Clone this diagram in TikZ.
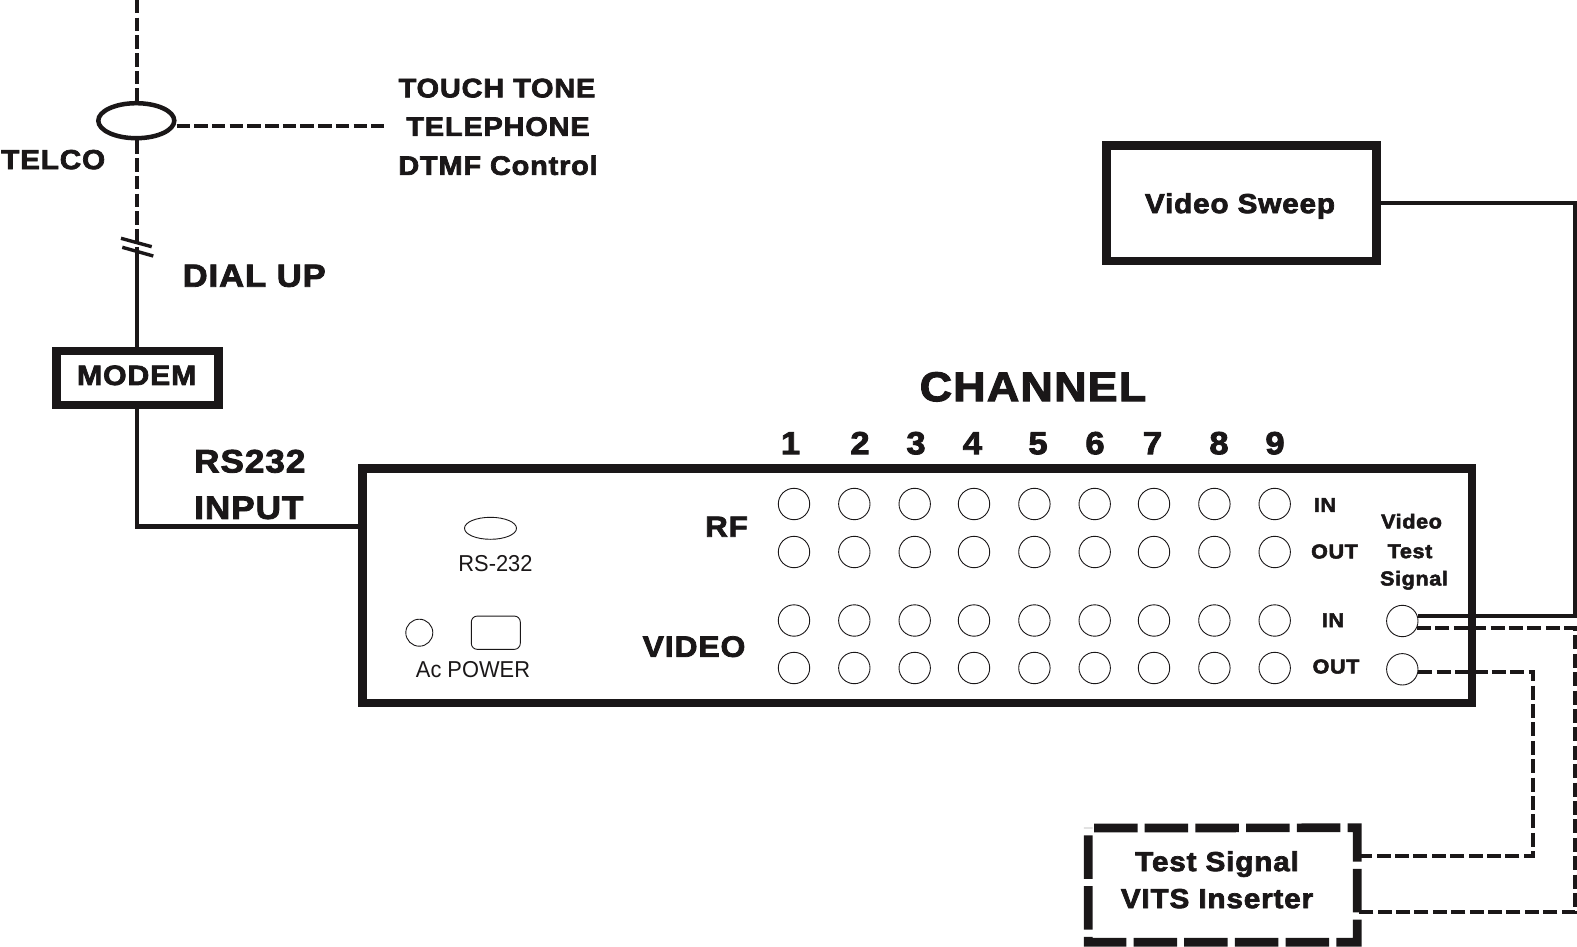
\documentclass[tikz,border=0pt]{standalone}
\usepackage{fontspec}
\usepackage{tikz}
\usetikzlibrary{calc,shapes.geometric}
\newfontfamily\hv[BoldFeatures={FakeBold=2.6,FakeStretch=1.08,LetterSpace=3}]{Liberation Sans}
\newfontfamily\thn[FakeStretch=0.95]{Liberation Sans}
\definecolor{ink}{HTML}{1A1718}
\tikzset{
  lab/.style={font={\hv\bfseries\fontsize{#1}{#1}\selectfont},text=ink,inner sep=0pt,text depth=0pt,text height={(0.72*#1)*1pt},align=center,yshift=0.8pt},
  thinlab/.style={font={\thn\fontsize{#1}{#1}\selectfont},text=ink,inner sep=0pt,text depth=0pt,text height={(0.72*#1)*1pt},yshift=0.8pt},
  heavybox/.style={draw=ink,line width=8.7pt,inner sep=0pt,minimum width=#1},
  jack/.style={circle,draw=ink,line width=0.9pt,minimum size=31.4pt,inner sep=0pt},
  wire/.style={draw=ink,line width=4.3pt,line join=miter},
  dashwire/.style={draw=ink,line width=4pt,dash pattern=on 13.5pt off 4.2pt},
  rightdash/.style={draw=ink,line width=4pt,dash pattern=on 14pt off 4.4pt},
  thinpart/.style={draw=ink,line width=0.9pt}
}
\begin{document}
\begin{tikzpicture}[x=1pt,y=-1pt]
\useasboundingbox (0,0) rectangle (1577,947);
% telco
\coordinate (top) at (137,0);
\coordinate (sideend) at (384,125.7);
\coordinate (dashend) at (137,250);
\node[ellipse,draw=ink,line width=4.5pt,minimum width=76pt,minimum height=35pt,inner sep=0pt] (tel) at (136.3,120.7) {};
\node[heavybox=162pt,minimum height=54pt] (modem) at (137.5,378) {};
\node[lab=28] at (136.7,375.7) {MODEM};
\node[heavybox=1109.5pt,minimum height=234.5pt] (panel) at (917.2,585.7) {};
\node[heavybox=270pt,minimum height=115.5pt] (sweep) at (1241.5,203.2) {};
\node[lab=27.5] at (1240,204) {Video Sweep};
\coordinate (vtl) at (1094,828);
\node[minimum width=268.5pt,minimum height=114pt,inner sep=0pt] (vits) at (1222.7,885) {};
\draw[draw=ink,line width=8.7pt,dash pattern=on 43.5pt off 7.2pt,line join=miter]
  (vtl) -- (vits.north east) -- (vits.south east) -- (vits.south west) -- (vits.north west);
\draw[dashwire] (top) -- (tel.north -| top);
\draw[dashwire] (tel.south -| top) -- (dashend);
\draw[wire] (dashend) -- (modem.north -| dashend);
\draw[dashwire] (tel.east |- sideend) -- (sideend);
\coordinate (brk1a) at (121,238.3); \coordinate (brk1b) at (151.7,246.7);
\coordinate (brk2a) at (122.3,247.3); \coordinate (brk2b) at (153.3,256);
\draw[draw=ink,line width=3.4pt] (brk1a) -- (brk1b);
\draw[draw=ink,line width=3.4pt] (brk2a) -- (brk2b);
\coordinate (rsin) at (137,526.5);
\draw[wire] (modem.south -| rsin) -- (rsin) -- (rsin -| panel.west);
% labels
\node[lab=26.8] at (497,88.5) {TOUCH TONE};
\node[lab=26.8] at (498,127) {TELEPHONE};
\node[lab=26.8] at (498,166) {DTMF Control};
\node[lab=27.5,anchor=west] at (1,160) {TELCO};
\node[lab=32,anchor=west] at (182.5,276) {DIAL UP};
\node[lab=32.5,anchor=west] at (194,461.6) {RS232};
\node[lab=32.5,anchor=west] at (194,508) {INPUT};
\node[lab=41.5] at (1033,387) {CHANNEL};
\foreach \t/\x in {1/790.5,2/860,3/916,4/972.5,5/1038,6/1095,7/1152.5,8/1219,9/1275}
  \node[lab=32] at (\x,443.5) {\t};
\foreach \x [count=\i] in {794,854.3,914.7,974,1034.4,1094.7,1154,1214.4,1274.7}{
  \node[jack] (ri\i) at (\x,504) {};
  \node[jack] (ro\i) at (\x,552) {};
  \node[jack] (vi\i) at (\x,620.5) {};
  \node[jack] (vo\i) at (\x,668) {};
}
\node[lab=29] at (726.5,527) {RF};
\node[lab=29.5] at (694,647) {VIDEO};
\node[lab=20] at (1325,505.5) {IN};
\node[lab=20] at (1334.5,552) {OUT};
\node[lab=20] at (1333,620.7) {IN};
\node[lab=20] at (1336,667) {OUT};
\node[lab=20] at (1411.5,522) {Video};
\node[lab=20] at (1410,551.7) {Test};
\node[lab=20] at (1414,579) {Signal};
\node[lab=27.5] at (1217,862) {Test Signal};
\node[lab=27.5] at (1217,899) {VITS Inserter};
% panel parts
\node[ellipse,thinpart,minimum width=52pt,minimum height=22pt,inner sep=0pt] (rsport) at (490.5,528.3) {};
\node[thinlab=23] at (495.5,564) {RS-232};
\node[circle,thinpart,minimum size=27pt,inner sep=0pt] (acjack) at (419.3,632.7) {};
\node[rectangle,rounded corners=6pt,thinpart,minimum width=49pt,minimum height=33.3pt,inner sep=0pt] (acsock) at (495.8,632.7) {};
\node[thinlab=23] at (473,670) {Ac POWER};
% video test signal jacks
\node[jack] (vin) at (1402.3,621) {};
\node[jack] (vout) at (1402.3,669.3) {};
\coordinate (rr) at (1575,0);
\coordinate (mr) at (1533,0);
\coordinate (lowy) at (0,912);
\coordinate (upy) at (0,856);
\draw[draw=ink,line width=3.5pt] (sweep.east) -- (sweep.east -| rr) -- (vin.18 -| rr) -- (vin.18);
\draw[rightdash] (vin.-25) -- (vin.-25 -| rr) -- (rr |- lowy) -- (vits.east |- lowy);
\draw[rightdash] (vout.-8) -- (vout.-8 -| mr) -- (mr |- upy) -- (vits.east |- upy);
\end{tikzpicture}
\end{document}
